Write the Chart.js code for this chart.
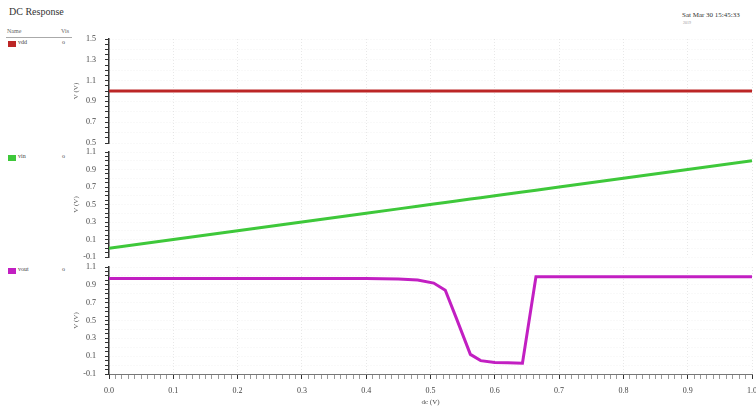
<!DOCTYPE html>
<html>
<head>
<meta charset="utf-8">
<script src="https://cdn.jsdelivr.net/npm/chart.js@4/dist/chart.umd.min.js"></script>
<style>
  body { margin: 0; background: #fff; }
  #wrap { position: relative; width: 756px; height: 406px; overflow: hidden; font-family: 'Liberation Serif', serif; color: #444; }
  #wrap canvas { position: absolute; left: 0; }
  .txt { position: absolute; white-space: nowrap; }
  .sw { position: absolute; width: 8px; height: 6px; }
</style>
</head>
<body>
<div id="wrap">
  <div class="txt" style="left:9px; top:6px; font-size:10px; color:#333;">DC Response</div>
  <div class="txt" style="left:682px; top:11px; font-size:7px; color:#333;">Sat Mar 30 15:45:33</div>
  <div class="txt" style="left:683px; top:20px; font-size:4px; color:#999;">2019</div>

  <div class="txt" style="left:7px; top:28px; font-size:6px; color:#666;">Name</div>
  <div class="txt" style="left:61px; top:28px; font-size:6px; color:#666;">Vis</div>
  <div style="position:absolute; left:6px; top:37px; width:66px; height:1px; background:#aaa;"></div>

  <div class="sw" style="left:8px; top:41px; background:#bc2626;"></div>
  <div class="txt" style="left:18px; top:39px; font-size:6px;">vdd</div>
  <div class="txt" style="left:62px; top:39px; font-size:6px;">o</div>

  <div class="sw" style="left:8px; top:155px; background:#3ec83a;"></div>
  <div class="txt" style="left:18px; top:153px; font-size:6px;">vin</div>
  <div class="txt" style="left:62px; top:153px; font-size:6px;">o</div>

  <div class="sw" style="left:8px; top:268px; background:#c21fc2;"></div>
  <div class="txt" style="left:18px; top:266px; font-size:6px;">vout</div>
  <div class="txt" style="left:62px; top:266px; font-size:6px;">o</div>

  <canvas id="c1" width="756" height="157" style="top:0px"></canvas>
  <canvas id="c2" width="756" height="133" style="top:138px"></canvas>
  <canvas id="c3" width="756" height="153" style="top:253px"></canvas>
</div>

<script>
// Sweep-Werte (x) und die drei Signale
const dcSweep = [0, 0.1, 0.2, 0.3, 0.4, 0.45, 0.48, 0.505, 0.523, 0.54, 0.562, 0.578, 0.6, 0.62, 0.643, 0.664, 0.7, 0.8, 0.9, 1.0];
const vddValues = [1.0, 1.0, 1.0, 1.0, 1.0, 1.0, 1.0, 1.0, 1.0, 1.0, 1.0, 1.0, 1.0, 1.0, 1.0, 1.0, 1.0, 1.0, 1.0, 1.0];
const vinValues = [0.0, 0.1, 0.2, 0.3, 0.4, 0.45, 0.48, 0.505, 0.523, 0.54, 0.562, 0.578, 0.6, 0.62, 0.643, 0.664, 0.7, 0.8, 0.9, 1.0];
const voutValues = [0.97, 0.97, 0.97, 0.97, 0.97, 0.965, 0.955, 0.92, 0.84, 0.53, 0.12, 0.05, 0.03, 0.025, 0.02, 0.99, 0.99, 0.99, 0.99, 0.99];

// Achsenbeschriftungen
const xTickLabels = [0.0, 0.1, 0.2, 0.3, 0.4, 0.5, 0.6, 0.7, 0.8, 0.9, 1.0];
const vddTicks = [0.5, 0.7, 0.9, 1.1, 1.3, 1.5];
const vinTicks = [-0.1, 0.1, 0.3, 0.5, 0.7, 0.9, 1.1];
const voutTicks = [-0.1, 0.1, 0.3, 0.5, 0.7, 0.9, 1.1];

const tickFont = { family: 'Liberation Serif', size: 8 };

// Haupt-Ticks plus Zwischenstriche
function withMinor(majors, parts) {
    const out = [];
    for (let i = 0; i < majors.length; i++) {
        out.push({ value: majors[i], major: true });
        if (i < majors.length - 1) {
            const step = (majors[i + 1] - majors[i]) / parts;
            for (let k = 1; k < parts; k++) out.push({ value: +(majors[i] + k * step).toFixed(4), major: false });
        }
    }
    return out;
}

function isMajor(list, v) {
    return list.some(m => Math.abs(m - v) < 1e-6);
}

function points(ys) {
    return dcSweep.map((x, i) => ({ x: x, y: ys[i] }));
}

function createPanel(canvasId, values, color, yTicks, pad, showX) {
    const ctx = document.getElementById(canvasId).getContext('2d');
    new Chart(ctx, {
        type: 'line',
        data: {
            datasets: [{
                data: points(values),
                borderColor: color,
                borderWidth: 3,
                pointRadius: 0,
                tension: 0,
                fill: false
            }]
        },
        options: {
            responsive: false,
            animation: false,
            layout: { padding: { left: 70, right: 4, top: pad.top, bottom: pad.bottom } },
            plugins: { legend: { display: false }, tooltip: { enabled: false } },
            scales: {
                x: {
                    type: 'linear',
                    min: 0,
                    max: 1,
                    afterBuildTicks: s => { s.ticks = withMinor(xTickLabels, 10); },
                    afterFit: s => {
                        s.height = showX ? 32 : 0;
                        // Beschriftung am rechten Rand darf überstehen
                        s.paddingRight = 0;
                        s.paddingLeft = 0;
                    },
                    border: { display: showX, color: '#777', width: 1, dash: [1, 2] },
                    grid: {
                        drawTicks: showX,
                        tickLength: 5,
                        tickColor: c => (c.tick && c.tick.major) ? '#333' : '#999',
                        color: c => (c.tick && c.tick.major) ? 'rgba(0,0,0,0.09)' : 'rgba(0,0,0,0)'
                    },
                    ticks: {
                        display: showX,
                        autoSkip: false,
                        maxRotation: 0,
                        padding: 7,
                        color: '#444',
                        font: tickFont,
                        callback: v => isMajor(xTickLabels, v) ? v.toFixed(1) : ''
                    },
                    title: {
                        display: showX,
                        text: 'dc (V)',
                        color: '#444',
                        font: { family: 'Liberation Serif', size: 7 },
                        padding: { top: 0, bottom: 0 }
                    }
                },
                y: {
                    min: yTicks[0],
                    max: yTicks[yTicks.length - 1],
                    afterBuildTicks: s => { s.ticks = withMinor(yTicks, 4); },
                    afterFit: s => { s.width = 39; },
                    border: { display: true, color: '#333', width: 1.5, dash: [1, 2] },
                    grid: {
                        tickLength: 4,
                        tickColor: '#333',
                        color: c => (c.index % 2 === 0) ? 'rgba(0,0,0,0.05)' : 'rgba(0,0,0,0)'
                    },
                    ticks: {
                        autoSkip: false,
                        padding: 9,
                        color: '#444',
                        font: tickFont,
                        callback: v => isMajor(yTicks, v) ? v.toFixed(1) : ''
                    },
                    title: {
                        display: true,
                        text: 'V (V)',
                        color: '#555',
                        font: { family: 'Liberation Serif', size: 7 },
                        padding: { top: 2, bottom: 2 }
                    }
                }
            }
        }
    });
}

createPanel('c1', vddValues, '#bc2626', vddTicks, { top: 39, bottom: 14 }, false);
createPanel('c2', vinValues, '#3ec83a', vinTicks, { top: 14, bottom: 14 }, false);
createPanel('c3', voutValues, '#c21fc2', voutTicks, { top: 14, bottom: 0 }, true);
</script>
</body>
</html>
